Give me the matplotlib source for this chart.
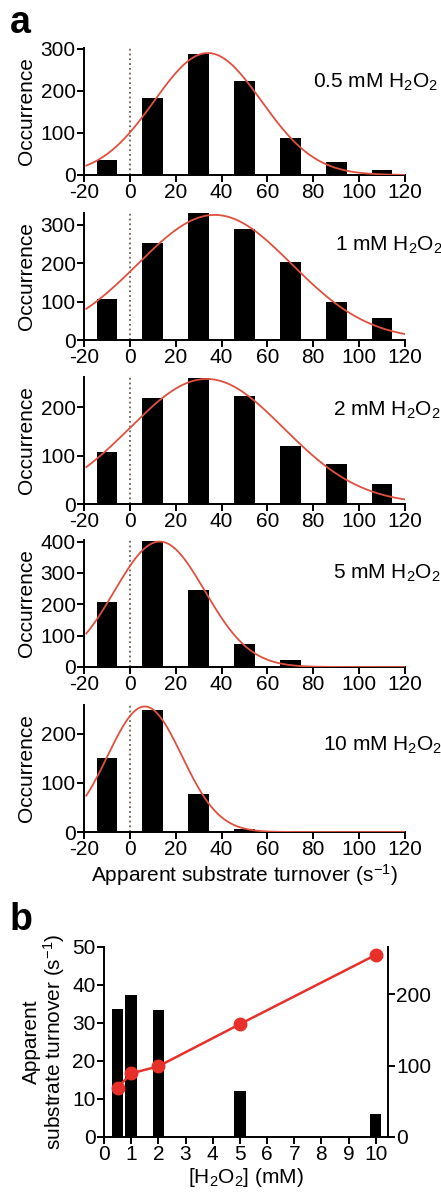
import numpy as np
import matplotlib
matplotlib.use("Agg")
from matplotlib import pyplot as plt

plt.rcParams['font.family'] = ['Liberation Sans', 'DejaVu Sans']
plt.rcParams['mathtext.fontset'] = 'custom'
plt.rcParams['mathtext.rm'] = 'Liberation Sans'
plt.rcParams['mathtext.it'] = 'Liberation Sans:italic'
plt.rcParams['mathtext.bf'] = 'Liberation Sans:bold'
plt.rcParams['axes.unicode_minus'] = False
plt.rcParams['font.size'] = 15

# 柱状图数据 (a)
bin_centers = [-10, 10, 30, 50, 70, 90, 110]
concs_label = ['0.5', '1', '2', '5', '10']
counts_05 = [36, 183, 288, 224, 88, 31, 12]
counts_1 = [106, 252, 330, 288, 203, 99, 57]
counts_2 = [108, 219, 260, 223, 119, 83, 42]
counts_5 = [206, 403, 245, 73, 22, 0, 0]
counts_10 = [150, 247, 78, 6, 0, 0, 0]
all_counts = [counts_05, counts_1, counts_2, counts_5, counts_10]

# 高斯拟合参数
fit_amp = [290, 325, 258, 400, 255]
fit_mean = [34, 37, 33.5, 13, 6.5]
fit_sigma = [23.4, 33.6, 33.6, 19.7, 16.2]

ylims = [302, 330, 262, 405, 258]
yticks = [[0, 100, 200, 300], [0, 100, 200, 300], [0, 100, 200],
          [0, 100, 200, 300, 400], [0, 100, 200]]

# (b) 数据
b_conc = [0.5, 1, 2, 5, 10]
b_turnover = [33.6, 37.5, 33.3, 12.2, 6.1]
b_right = [69, 89, 99, 158, 255]

W, H = 441, 1195
fig = plt.figure(figsize=(W / 100, H / 100), dpi=100)

tops = [48, 213, 377, 540, 705]
label_y = [82, 245, 410, 573, 745]
label_x = [313, 335, 333, 333, 323]
ax_h = 127

fit_color = '#e0503f'

for i in range(5):
    ax = fig.add_axes([84 / W, 1 - (tops[i] + ax_h) / H, 321 / W, ax_h / H])
    ax.bar(bin_centers, all_counts[i], width=9, color='black', zorder=2)
    xx = np.linspace(-19, 120, 300)
    yy = fit_amp[i] * np.exp(-(xx - fit_mean[i]) ** 2 / (2 * fit_sigma[i] ** 2))
    ax.plot(xx, yy, color=fit_color, lw=1.3, zorder=3)
    ax.axvline(0, color='#6b5f4f', ls=':', lw=1.3, zorder=1)
    ax.set_xlim(-20, 120)
    ax.set_ylim(0, ylims[i])
    ax.set_xticks(range(-20, 121, 20))
    ax.set_yticks(yticks[i])
    for s in ['top', 'right']:
        ax.spines[s].set_visible(False)
    for s in ['left', 'bottom']:
        ax.spines[s].set_linewidth(1.4)
    ax.tick_params(length=5, width=1.4, pad=1)
    ax.set_ylabel('Occurrence')
    ax.yaxis.set_label_coords(-0.15, 0.5)
    fig.text(label_x[i] / W, 1 - label_y[i] / H,
             concs_label[i] + r' mM H$_\mathregular{2}$O$_\mathregular{2}$',
             ha='left', va='center')
    if i == 4:
        ax.set_xlabel(r'Apparent substrate turnover (s$^\mathregular{-1}$)', labelpad=2)

fig.text(10 / W, 1 - 33 / H, 'a', fontsize=27, fontweight='bold', va='baseline')
fig.text(10 / W, 1 - 930 / H, 'b', fontsize=27, fontweight='bold', va='baseline')

# (b)
axb = fig.add_axes([104 / W, 1 - 1137 / H, 284 / W, 190 / H])
axb.bar(b_conc, b_turnover, width=0.42, color='black')
axb.set_xlim(0, 10.45)
axb.set_ylim(0, 50)
axb.set_xticks(range(0, 11))
axb.set_yticks(range(0, 51, 10))
axb.spines['top'].set_visible(False)
axb.spines['right'].set_visible(False)
for s in ['left', 'bottom']:
    axb.spines[s].set_linewidth(1.4)
axb.tick_params(length=5, width=1.4, pad=1)
axb.set_ylabel('Apparent\nsubstrate turnover (s$^\\mathregular{-1}$)',
               linespacing=1.0)
axb.set_xlabel(r'[H$_\mathregular{2}$O$_\mathregular{2}$] (mM)', labelpad=1)

axr = axb.twinx()
axr.plot(b_conc, b_right, color='#e8302a', lw=1.8, marker='o', ms=9, zorder=4)
axr.set_ylim(0, 266)
axr.set_yticks([0, 100, 200])
for s in ['top', 'left', 'bottom']:
    axr.spines[s].set_visible(False)
axr.spines['right'].set_linewidth(1.4)
axr.tick_params(length=5, width=1.4, pad=1)

fig.savefig('out.png', dpi=100)
